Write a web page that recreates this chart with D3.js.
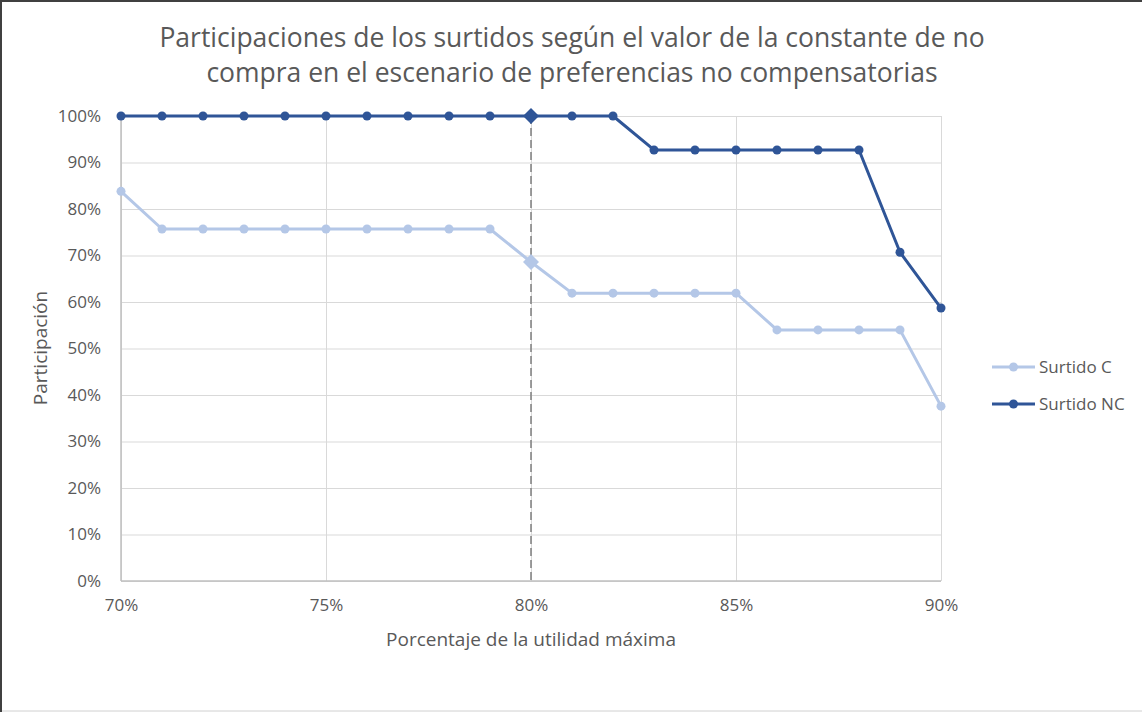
<!DOCTYPE html>
<html><head><meta charset="utf-8">
<script src="https://cdn.jsdelivr.net/npm/d3@7"></script>
<style>
html,body{margin:0;padding:0;background:#fff;}
svg{display:block;font-family:"Open Sans",sans-serif;}
</style></head>
<body>
<svg id="chart" width="1142" height="712"></svg>
<script>
const xValues = [0.70,0.71,0.72,0.73,0.74,0.75,0.76,0.77,0.78,0.79,0.80,0.81,0.82,0.83,0.84,0.85,0.86,0.87,0.88,0.89,0.90];
const surtidoC  = [0.838,0.757,0.757,0.757,0.757,0.757,0.757,0.757,0.757,0.757,0.686,0.619,0.619,0.619,0.619,0.619,0.540,0.540,0.540,0.540,0.376];
const surtidoNC = [1,1,1,1,1,1,1,1,1,1,1,1,1,0.927,0.927,0.927,0.927,0.927,0.927,0.707,0.587];
const xTicks = [0.70,0.75,0.80,0.85,0.90];
const yTicks = [0,0.1,0.2,0.3,0.4,0.5,0.6,0.7,0.8,0.9,1.0];
const highlightX = 0.80;
const seriesNames = ["Surtido C","Surtido NC"];
const seriesColors = ["#b4c7e7","#2f5597"];
const titleLines = ["Participaciones de los surtidos según el valor de la constante de no","compra en el escenario de preferencias no compensatorias"];

const svg = d3.select("#chart");
const W = 1142, H = 712;
const m = {left:121, right:941, top:116, bottom:581};
const x = d3.scaleLinear().domain([0.70,0.90]).range([m.left,m.right]);
const y = d3.scaleLinear().domain([0,1]).range([m.bottom,m.top]);
const pct = d3.format(".0%");
const textCol = "#595959";
const gridCol = "#d9d9d9";

// border
svg.append("rect").attr("x",1).attr("y",0.5).attr("width",W+2).attr("height",H-1.5)
  .attr("fill","none").attr("stroke","#d0d0d0").attr("stroke-width",1);
svg.append("line").attr("x1",1).attr("x2",1).attr("y1",0).attr("y2",H).attr("stroke","#404040").attr("stroke-width",2);
svg.append("line").attr("x1",0).attr("x2",W).attr("y1",1).attr("y2",1).attr("stroke","#404040").attr("stroke-width",2);

// title
svg.append("g").selectAll("text").data(titleLines).join("text")
  .attr("x",572).attr("y",(d,i)=>47+i*35)
  .attr("text-anchor","middle").attr("font-size",26.5).attr("fill",textCol).text(d=>d);

// grid
const yAxis = d3.axisLeft(y).tickValues(yTicks).tickFormat(pct).tickSize(-(m.right-m.left)).tickPadding(20);
const gy = svg.append("g").attr("transform",`translate(${m.left},0)`).call(yAxis);
gy.select(".domain").remove();
gy.selectAll(".tick line").attr("stroke",gridCol).attr("stroke-width",1);
gy.selectAll(".tick text").attr("fill",textCol).attr("font-size",17).attr("font-family","Open Sans");

const xAxis = d3.axisBottom(x).tickValues(xTicks).tickFormat(pct).tickSize(-(m.bottom-m.top)).tickPadding(18);
const gx = svg.append("g").attr("transform",`translate(0,${m.bottom})`).call(xAxis);
gx.select(".domain").remove();
gx.selectAll(".tick line").attr("stroke",gridCol).attr("stroke-width",1);
gx.selectAll(".tick text").attr("fill",textCol).attr("font-size",17).attr("font-family","Open Sans");

// axis lines
svg.append("line").attr("x1",m.left).attr("x2",m.right).attr("y1",y(0)).attr("y2",y(0)).attr("stroke","#bfbfbf").attr("stroke-width",1.5);
svg.append("line").attr("x1",m.left).attr("x2",m.left).attr("y1",y(0)).attr("y2",y(1)).attr("stroke","#bfbfbf").attr("stroke-width",1.5);

// highlight dashed line
svg.append("line").attr("x1",x(highlightX)).attr("x2",x(highlightX)).attr("y1",y(1)).attr("y2",y(0))
  .attr("stroke","#7f7f7f").attr("stroke-width",1.5).attr("stroke-dasharray","8,4");

// axis titles
svg.append("text").attr("x",531).attr("y",646).attr("text-anchor","middle").attr("font-size",19).attr("fill",textCol).text("Porcentaje de la utilidad máxima");
svg.append("text").attr("transform","translate(47,348) rotate(-90)").attr("text-anchor","middle").attr("font-size",19).attr("fill",textCol).text("Participación");

// series
const series = [surtidoC, surtidoNC];
const line = d3.line().x((d,i)=>x(xValues[i])).y(d=>y(d));
series.forEach((vals,si)=>{
  const g = svg.append("g");
  g.append("path").datum(vals).attr("d",line).attr("fill","none").attr("stroke",seriesColors[si]).attr("stroke-width",3).attr("stroke-linejoin","round");
  g.selectAll("circle").data(vals.map((v,i)=>({v,i})).filter(d=>xValues[d.i]!==highlightX)).join("circle")
    .attr("cx",d=>x(xValues[d.i])).attr("cy",d=>y(d.v)).attr("r",4.5).attr("fill",seriesColors[si]);
  g.selectAll("path.dia").data(vals.map((v,i)=>({v,i})).filter(d=>xValues[d.i]===highlightX)).join("path")
    .attr("class","dia").attr("d",d3.symbol().type(d3.symbolSquare).size(128))
    .attr("transform",d=>`translate(${x(xValues[d.i])},${y(d.v)}) rotate(45)`).attr("fill",seriesColors[si]);
});

// legend
const leg = svg.append("g");
seriesNames.forEach((n,i)=>{
  const ly = 367 + i*37;
  leg.append("line").attr("x1",992).attr("x2",1035).attr("y1",ly).attr("y2",ly).attr("stroke",seriesColors[i]).attr("stroke-width",3);
  leg.append("circle").attr("cx",1013.5).attr("cy",ly).attr("r",4.5).attr("fill",seriesColors[i]);
  leg.append("text").attr("x",1039).attr("y",ly+6).attr("font-size",17).attr("fill",textCol).text(n);
});
</script>
</body></html>
